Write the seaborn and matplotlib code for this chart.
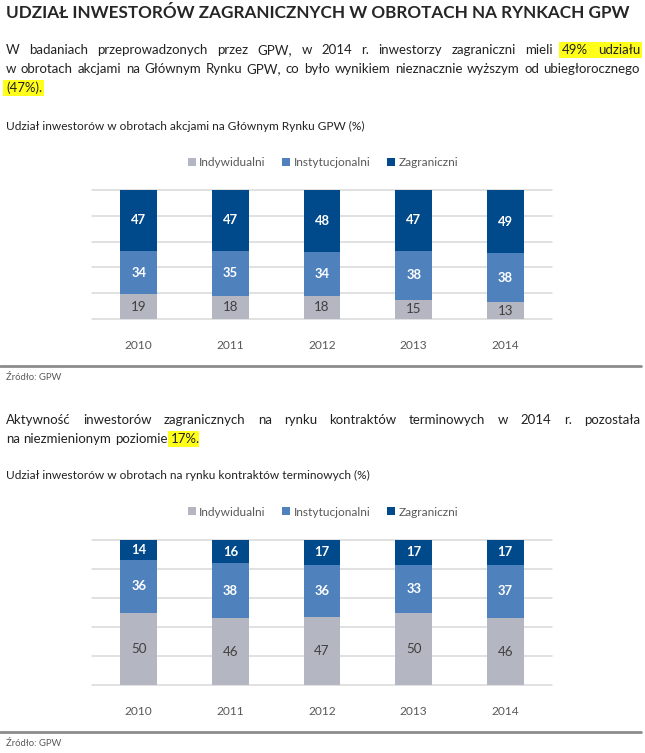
import numpy as np
import pandas as pd
import matplotlib
matplotlib.use("Agg")
import matplotlib.pyplot as plt
import seaborn as sns
from matplotlib.patches import Rectangle, Patch
from matplotlib.lines import Line2D

# ---------------- data ----------------
years = ["2010", "2011", "2012", "2013", "2014"]
series = ["Indywidualni", "Instytucjonalni", "Zagraniczni"]

akcje_indywidualni = [19, 18, 18, 15, 13]
akcje_instytucjonalni = [34, 35, 34, 38, 38]
akcje_zagraniczni = [47, 47, 48, 47, 49]

termin_indywidualni = [50, 46, 47, 50, 46]
termin_instytucjonalni = [36, 38, 36, 33, 37]
termin_zagraniczni = [14, 16, 17, 17, 17]

title = "UDZIAŁ INWESTORÓW ZAGRANICZNYCH W OBROTACH NA RYNKACH GPW"
para1 = [
    "W badaniach przeprowadzonych przez GPW, w 2014 r. inwestorzy zagraniczni mieli 49% udziału",
    "w obrotach akcjami na Głównym Rynku GPW, co było wynikiem nieznacznie wyższym od ubiegłorocznego",
    "(47%).",
]
para2 = [
    "Aktywność inwestorów zagranicznych na rynku kontraktów terminowych w 2014 r. pozostała",
    "na niezmienionym poziomie 17%.",
]
subtitle1 = "Udział inwestorów w obrotach akcjami na Głównym Rynku GPW (%)"
subtitle2 = "Udział inwestorów w obrotach na rynku kontraktów terminowych (%)"
source = "Źródło: GPW"

# ---------------- style ----------------
sns.set_theme(style="white")
plt.rcParams["font.family"] = ["Lato", "DejaVu Sans"]

C_IND = "#b4b6c1"
C_INST = "#4f81bd"
C_ZAGR = "#004a8b"
C_TXT = "#222222"
C_GREY = "#595959"
C_HL = "#ffff1a"

W, H, DPI = 645, 753, 100
fig = plt.figure(figsize=(W / DPI, H / DPI), dpi=DPI)
fig.patch.set_facecolor("white")
renderer = fig.canvas.get_renderer()


def fx(px):
    return px / W


def fy(py):
    return 1 - py / H


def width_of(t):
    return t.get_window_extent(renderer).width


def measure(s, size, **kw):
    tmp = fig.text(0, 0, s, fontsize=size, **kw)
    w = width_of(tmp)
    tmp.remove()
    return w


X0, X1 = 6, 640

# title, autofit width
TITLE_SIZE = 10 * 623 / measure(title, 10, weight="bold")
fig.text(fx(X0), fy(13), title, fontsize=TITLE_SIZE, weight="bold", color="#262626",
         va="center", ha="left")

# paragraph size: second line of paragraph 1 nearly fills the width naturally
PARA = 10 * 622 / measure(para1[1], 10)
SUB = 8.6

fig.text(fx(X0), fy(126), subtitle1, fontsize=SUB, color=C_TXT, va="center", ha="left")
fig.text(fx(X0), fy(475), subtitle2, fontsize=SUB, color=C_TXT, va="center", ha="left")

SPACE = measure("a a", PARA) - measure("aa", PARA)


def text_line(line, py, justify=True, hl_from=None, hl_trim=""):
    words = line.split(" ")
    ts = [fig.text(0, fy(py), w, fontsize=PARA, color=C_TXT, va="center", ha="left")
          for w in words]
    ws = [width_of(tt) for tt in ts]
    gap = (X1 - X0 - sum(ws)) / (len(ws) - 1) if justify else SPACE
    x = X0
    xs = []
    for tt, w in zip(ts, ws):
        tt.set_x(fx(x))
        xs.append(x)
        x += w + gap
    if hl_from is not None:
        trim = measure(hl_trim, PARA) if hl_trim else 0
        xa = xs[hl_from] - 3
        xb = xs[-1] + ws[-1] + 2 - trim
        fig.add_artist(Rectangle((fx(xa), fy(py + 8)), (xb - xa) / W, 16 / H,
                                 transform=fig.transFigure, facecolor=C_HL,
                                 edgecolor="none", zorder=0))


text_line(para1[0], 50, True, hl_from=-2)
text_line(para1[1], 69, True)
text_line(para1[2], 88, False, hl_from=0)
text_line(para2[0], 420, True)
text_line(para2[1], 439, False, hl_from=-1, hl_trim=".")

# separators and sources
for py_line, py_src in [(366, 378), (732, 743)]:
    fig.add_artist(Line2D([0, fx(641)], [fy(py_line), fy(py_line)], color="#8c8c8c",
                          lw=2, transform=fig.transFigure))
    fig.text(fx(X0), fy(py_src), source, fontsize=6.8, color=C_GREY, va="center", ha="left")


def chart(top_px, bottom_px, ind, inst, zagr, legend_py):
    ax = fig.add_axes([fx(92), fy(bottom_px), 460 / W, (bottom_px - top_px) / H])
    df = pd.DataFrame({"Rok": years, series[0]: ind, series[1]: inst, series[2]: zagr})
    df["c1"] = df[series[0]]
    df["c2"] = df["c1"] + df[series[1]]
    df["c3"] = df["c2"] + df[series[2]]
    for col, color in [("c3", C_ZAGR), ("c2", C_INST), ("c1", C_IND)]:
        sns.barplot(data=df, x="Rok", y=col, color=color, saturation=1, width=0.4,
                    linewidth=0, ax=ax, zorder=2)
    for i in range(len(years)):
        ax.text(i, df["c1"][i] / 2, str(ind[i]), ha="center", va="center",
                fontsize=9.6, color="#404040", zorder=5)
        ax.text(i, df["c1"][i] + inst[i] / 2, str(inst[i]), ha="center", va="center",
                fontsize=9.4, weight="bold", color="white", zorder=5)
        ax.text(i, df["c2"][i] + zagr[i] / 2, str(zagr[i]), ha="center", va="center",
                fontsize=9.4, weight="bold", color="white", zorder=5)
    ax.set_xlim(-0.51, len(years) - 0.49)
    ax.set_ylim(0, 100)
    ax.set_yticks(np.arange(0, 101, 20))
    ax.yaxis.grid(True, color="#d9d9d9", lw=1.1)
    ax.set_axisbelow(True)
    for gl in ax.get_ygridlines():
        gl.set_clip_on(False)
    sns.despine(ax=ax, left=True, bottom=True)
    ax.tick_params(axis="y", left=False, labelleft=False)
    ax.tick_params(axis="x", bottom=False, labelsize=8.6, labelcolor=C_GREY, pad=9)
    ax.set_xlabel("")
    ax.set_ylabel("")
    handles = [Patch(facecolor=c, edgecolor="none", label=s)
               for c, s in zip([C_IND, C_INST, C_ZAGR], series)]
    ax.legend(handles=handles, ncol=3, loc="center",
              bbox_to_anchor=(fx(323), fy(legend_py)), bbox_transform=fig.transFigure,
              frameon=False, handlelength=0.65, handleheight=0.65, handletextpad=0.3,
              columnspacing=1.4, fontsize=8.6, labelcolor=C_GREY)
    return ax


chart(190, 319, akcje_indywidualni, akcje_instytucjonalni, akcje_zagraniczni, 163)
chart(540, 685, termin_indywidualni, termin_instytucjonalni, termin_zagraniczni, 512)

fig.savefig("out.png", dpi=DPI)
